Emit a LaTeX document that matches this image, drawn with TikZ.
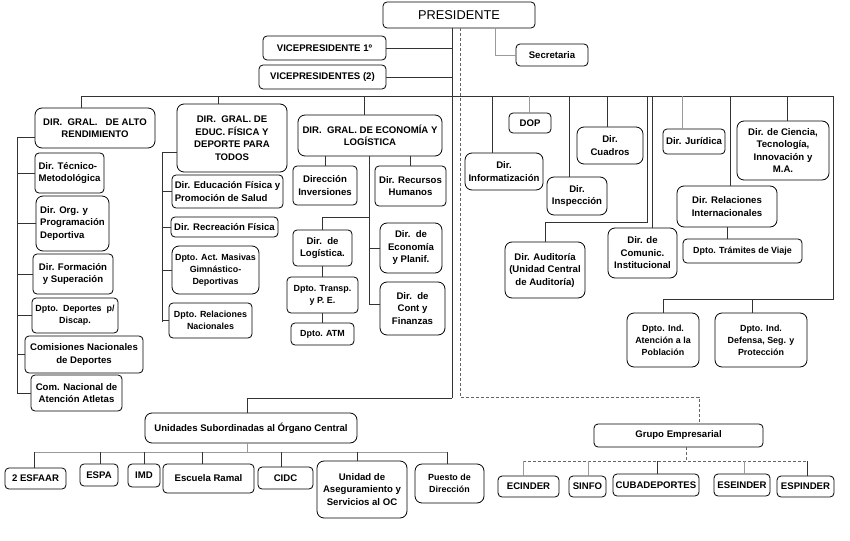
\documentclass[tikz,border=0pt]{standalone}
\usepackage{fontspec}
\setmainfont{Liberation Sans}
\tikzset{
  box/.style = {
    shape = rectangle,
    draw = black,
    line width = 0.8pt,
    rounded corners = 4pt,
    align = center,
    inner sep = 1pt,
    fill = white,
    font = \bfseries\fontsize{9.6}{12.5}\selectfont,
  },
  wh/.style 2 args = {minimum width = #1pt, minimum height = #2pt},
  small/.style = {font = \bfseries\fontsize{8.9}{12}\selectfont},
  big/.style = {rounded corners = 7pt},
}
\tikzset{
  line1/.style = {draw = black!80, line width = 0.8pt},
  line2/.style = {draw = black!40, line width = 0.8pt},
  dash1/.style = {draw = black!60, line width = 0.7pt, dash pattern = on 3pt off 2pt},
}

\begin{document}
\begin{tikzpicture}[x = 1pt, y = -1pt]
            \useasboundingbox (0,0) rectangle (850,540);
            % top
            \node[box, wh={152}{26}, font = \fontsize{12.8}{14}\selectfont](pres) at (459,15){PRESIDENTE};
            \node[box, wh={123}{24}](vp1) at (324.5,48){VICEPRESIDENTE 1º};
            \node[box, wh={127}{24}](vps) at (322.5,77){VICEPRESIDENTES (2)};
            \node[box, wh={72}{22}](secr) at (552,55){Secretaria};
            % alto rendimiento
            \node[box, big, wh={120}{40}](alto) at (95,128){DIR.\ \ GRAL.\ \ \ DE ALTO\\RENDIMIENTO};
            \node[box, wh={69}{40}, align = left](tecnico) at (69.5,173){Dir. Técnico-\\Metodológica};
            \node[box, big, wh={73}{55}, align = left](org) at (72.5,223.5){Dir. Org. y\\Programación\\Deportiva};
            \node[box, wh={80}{40}](formacion) at (73,274){Dir. Formación\\y Superación};
            \node[box, wh={86}{35}, small](discap) at (75,315.5){Dpto.\ \ Deportes\ \ p/\\Discap.};
            \node[box, wh={118}{37}](comisiones) at (84,354.5){Comisiones Nacionales\\de Deportes};
            \node[box, wh={91}{36}](atletas) at (76.5,393){Com. Nacional de\\Atención Atletas};
            % educacion fisica
            \node[box, big, wh={110}{68}](edfis) at (232,138){DIR.\ \ GRAL. DE\\EDUC. FÍSICA Y\\DEPORTE PARA\\TODOS};
            \node[box, wh={111}{33}, align = left](edsalud) at (227.5,191.5){Dir. Educación Física y\\Promoción de Salud};
            \node[box, wh={107}{20}](recreacion) at (224.5,227){Dir. Recreación Física};
            \node[box, big, wh={87}{48}, small](masivas) at (215.5,270){Dpto. Act. Masivas\\Gimnástico-\\Deportivas};
            \node[box, wh={83}{35}, small](relnac) at (210.5,320.5){Dpto. Relaciones\\Nacionales};
            % economia
            \node[box, big, wh={144}{41}](econ) at (370,135.5){DIR.\ \ GRAL. DE ECONOMÍA Y\\LOGÍSTICA};
            \node[box, wh={64}{39}](inversiones) at (325,185.5){Dirección\\Inversiones};
            \node[box, wh={71}{40}](rrhh) at (410.5,186){Dir. Recursos\\Humanos};
            \node[box, wh={59}{36}](logistica) at (322.5,248){Dir.\ \ de\\Logística.};
            \node[box, wh={71}{36}, small](transp) at (322.5,295){Dpto. Transp.\\y P. E.};
            \node[box, wh={63}{22}, small](atm) at (322.5,334){Dpto. ATM};
            \node[box, big, wh={62}{50}](planif) at (411,248){Dir.\ \ de\\Economía\\y Planif.};
            \node[box, big, wh={65}{53}](finanzas) at (412.5,308.5){Dir.\ \ de\\Cont y\\Finanzas};
            % direcciones del presidente
            \node[box, big, wh={78}{37}](info) at (504,171.5){Dir.\\Informatización};
            \node[box, wh={42}{20}](dop) at (530,123){DOP};
            \node[box, big, wh={60}{38}](inspeccion) at (577,196){Dir.\\Inspección};
            \node[box, big, wh={66}{37}](cuadros) at (610,145.5){Dir.\\Cuadros};
            \node[box, big, wh={80}{56}](auditoria) at (545,270){Dir. Auditoría\\(Unidad Central\\de Auditoría)};
            \node[box, big, wh={69}{50}](comunic) at (642.5,253){Dir. de\\Comunic.\\Institucional};
            \node[box, wh={62}{25}](juridica) at (694,141.5){Dir. Jurídica};
            \node[box, big, wh={100}{41}](relint) at (727,206.5){Dir. Relaciones\\Internacionales};
            \node[box, wh={119}{24}, small](tramites) at (742.5,251){Dpto. Trámites de Viaje};
            \node[box, big, wh={92}{59}](ciencia) at (783,150.5){Dir. de Ciencia,\\Tecnología,\\Innovación y\\M.A.};
            \node[box, big, wh={72}{54}, small](atencion) at (663,340){Dpto. Ind.\\Atención a la\\Población};
            \node[box, big, wh={92}{54}, small](defensa) at (761,340){Dpto. Ind.\\Defensa, Seg. y\\Protección};
            % grupo empresarial
            \node[box, wh={169}{23}](grupo) at (678.5,435.5){Grupo Empresarial};
            \node[box, wh={61}{21}](ecinder) at (528.5,486.5){ECINDER};
            \node[box, wh={37}{21}](sinfo) at (587.5,486.5){SINFO};
            \node[box, wh={86}{22}](cubadep) at (656,485){CUBADEPORTES};
            \node[box, wh={56}{22}](eseinder) at (742,485){ESEINDER};
            \node[box, wh={57}{21}](espinder) at (805.5,486.5){ESPINDER};
            % unidades subordinadas
            \node[box, big, wh={212}{30}](unidades) at (251,428){Unidades Subordinadas al Órgano Central};
            \node[box, wh={61}{21}](esfaar) at (35.5,478.5){2 ESFAAR};
            \node[box, wh={38}{22}](espa) at (99,475){ESPA};
            \node[box, wh={32}{23}](imd) at (144,475.5){IMD};
            \node[box, wh={91}{29}](ramal) at (208.5,478.5){Escuela Ramal};
            \node[box, wh={55}{22}](cidc) at (285.5,478){CIDC};
            \node[box, big, wh={90}{57}](unidad) at (362,489.5){Unidad de\\Aseguramiento y\\Servicios al OC};
            \node[box, big, wh={69}{39}, small](puesto) at (449.5,483.5){Puesto de\\Dirección};

            % lineas de mando
            \coordinate (tl) at (81,96);
            \coordinate (tr) at (833,96);
            \coordinate (spine) at (452,398);
            \coordinate (sc) at (495,55);
            \draw[line1](tl) -- (tr);
            \draw[line1](pres.south -| spine) -- (spine);
            \draw[line1](vp1.east) -- (vp1.east -| spine);
            \draw[line1](vps.east) -- (vps.east -| spine);
            \draw[line2](pres.south -| sc) -- (sc) -- (secr.west);
            % alto rendimiento
            \coordinate (ba) at (17,137);
            \coordinate (bz) at (17,393);
            \draw[line1](tl) -- (tl |- alto.north);
            \draw[line1](ba) -- (bz);
            \draw[line1](ba) -- (ba -| alto.west);
            \foreach \n in {tecnico, org, formacion, discap, comisiones, atletas}
              \draw[line1](ba |- \n.west) -- (\n.west);
            % educacion fisica
            \coordinate (te) at (218,96);
            \coordinate (be) at (162,152);
            \coordinate (bf) at (162,322);
            \draw[line1](te) -- (te |- edfis.north);
            \draw[line1](be) -- (bf);
            \draw[line1](be) -- (be -| edfis.west);
            \foreach \n in {edsalud, recreacion, masivas, relnac}
              \draw[line1](be |- \n.west) -- (\n.west);
            % economia
            \coordinate (tc) at (364,96);
            \coordinate (cs) at (369,304);
            \coordinate (cl) at (369,217);
            \draw[line1](tc) -- (tc |- econ.north);
            \draw[line1](inversiones.north) -- (inversiones.north |- econ.south);
            \draw[line1](rrhh.north) -- (rrhh.north |- econ.south);
            \draw[line1](econ.south -| cs) -- (cs) -- (cs -| finanzas.west);
            \draw[line1](cs |- planif.west) -- (planif.west);
            \draw[line1](cl) -| (logistica.north);
            \draw[line1](logistica.south) -- (transp.north);
            \draw[line1](transp.south) -- (atm.north);
            % direcciones del presidente
            \foreach \x/\n in {492/info, 569/inspeccion, 607/cuadros, 652/comunic, 730/relint, 787/ciencia}
              \draw[line1](\x,96) -- (\x,96 |- \n.north);
            \foreach \x/\n in {529/dop, 682/juridica}
              \draw[line2](\x,96) -- (\x,96 |- \n.north);
            \draw[line1](647,96) -- (647,222) -| (auditoria.north);
            \draw[line1](relint.south) -- (relint.south |- tramites.north);
            \coordinate (rb) at (833,299);
            \coordinate (rd) at (752,299);
            \draw[line1](tr) -- (rb) -- (rb -| atencion.north) -- (atencion.north);
            \draw[line1](rd) -- (rd |- defensa.north);
            % grupo empresarial
            \coordinate (dd) at (460,397);
            \coordinate (dg) at (699,397);
            \coordinate (gb) at (686,461);
            \draw[dash1](pres.south -| dd) -- (dd) -- (dg) -- (dg |- grupo.north);
            \draw[dash1](grupo.south -| gb) -- (gb);
            \draw[dash1](523,461) -- (807,461);
            \foreach \x/\n in {523/ecinder, 588/sinfo, 744/eseinder}
              \draw[line2](\x,461) -- (\x,461 |- \n.north);
            \foreach \x/\n in {657/cubadep, 807/espinder}
              \draw[line1](\x,461) -- (\x,461 |- \n.north);
            % unidades subordinadas
            \coordinate (ub) at (247,398);
            \coordinate (ul) at (34,452);
            \coordinate (ur) at (447,452);
            \draw[line1](spine) -- (ub) -- (ub |- unidades.north);
            \draw[line2](ul) -- (ur);
            \draw[line2](unidades.south -| ub) -- (ub |- ul);
            \foreach \x/\n in {34/esfaar, 100/espa, 144/imd, 202/ramal, 281/cidc, 357/unidad, 447/puesto}
              \draw[line1](\x,452) -- (\x,452 |- \n.north);
        \end{tikzpicture}
\end{document}
